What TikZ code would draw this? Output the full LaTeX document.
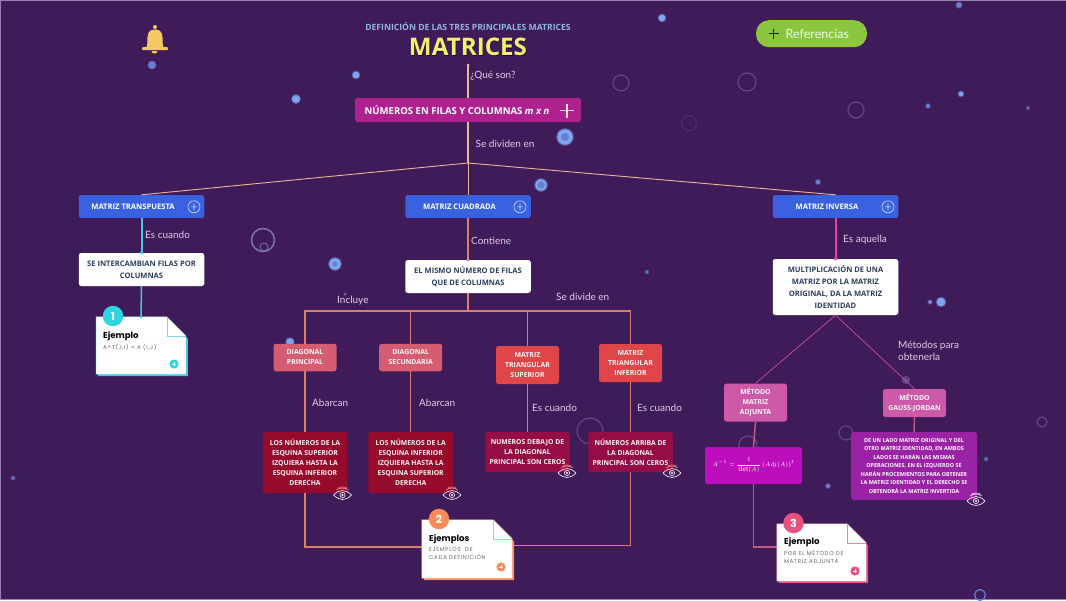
\documentclass[tikz,border=0pt]{standalone}
\usepackage{fontspec}
\usetikzlibrary{calc}
\setmainfont{Open Sans}
\newfontfamily\labfont{Lato}
\newfontfamily\popfont{Poppins}
\newfontfamily\spfont[LetterSpace=12]{Poppins}
\definecolor{bgc}{HTML}{401B5A}
\definecolor{edgec}{HTML}{9A80B0}
\definecolor{labc}{HTML}{DDCDE8}
\definecolor{forkc}{HTML}{E9B994}
\definecolor{cyanc}{HTML}{40C8E4}
\definecolor{peachc}{HTML}{DC7F68}
\definecolor{pinkc}{HTML}{EC40A4}
\definecolor{thinpk}{HTML}{C9509A}
\definecolor{rosec}{HTML}{C4587E}
\definecolor{bluec}{HTML}{3A62E0}
\definecolor{magc}{HTML}{AE2290}
\definecolor{diagc}{HTML}{D65C72}
\definecolor{triac}{HTML}{E04549}
\definecolor{darkc}{HTML}{960A2C}
\definecolor{darkb}{HTML}{960C44}
\definecolor{metc}{HTML}{CC5AA8}
\definecolor{fmc}{HTML}{BC0EBC}
\definecolor{gjc}{HTML}{9A22A4}
\definecolor{navyc}{HTML}{2C3E5C}
\definecolor{ring}{HTML}{5F4B8C}
\definecolor{ringb}{HTML}{7876B0}
\definecolor{ringf}{HTML}{45205E}
\definecolor{blob}{HTML}{7FA6F0}
\definecolor{blobd}{HTML}{6580D0}
\definecolor{cream}{HTML}{F6E4C8}
\definecolor{greyt}{HTML}{666666}
\definecolor{bellc}{HTML}{F5C862}
\definecolor{ttlc}{HTML}{F5EE70}
\definecolor{subc}{HTML}{8FB8DE}
\definecolor{refc}{HTML}{8CC63F}
\definecolor{bd1}{HTML}{2ED5E0}
\definecolor{bd2}{HTML}{F88B58}
\definecolor{bd3}{HTML}{E8507F}
\tikzset{
 x=1pt,y=-1pt,
 boxbase/.style={rectangle,rounded corners=2.5pt,align=center,inner sep=0pt,text=white},
 bluebox/.style={boxbase,fill=bluec,minimum width=125.5pt,minimum height=23pt,font=\fontsize{7.6}{13}\bfseries\selectfont},
 whitebox/.style={boxbase,fill=white,text=navyc,minimum width=125.5pt,font=\fontsize{7.55}{12}\bfseries\selectfont},
 smallbox/.style={boxbase,minimum width=63pt,font=\fontsize{6.9}{10}\bfseries\selectfont,text=white!90!pink},
 darkbox/.style={boxbase,minimum width=84.5pt,font=\fontsize{6.8}{10.1}\bfseries\selectfont,text=white!88!pink},
 lab/.style={anchor=west,inner sep=0pt,text=labc,font=\labfont\fontsize{10}{12}\selectfont,align=left},
 notetitle/.style={anchor=west,inner sep=0pt,text=black,font=\popfont\fontsize{8.6}{10}\bfseries\selectfont},
 notetext/.style={anchor=west,inner sep=0pt,text=greyt,align=left,font=\spfont\fontsize{5.6}{7.6}\selectfont},
 badge/.style={circle,minimum size=20.5pt,inner sep=0pt,text=white,font=\popfont\fontsize{11}{12}\bfseries\selectfont},
 conn/.style={line width=1.5pt},
 connb/.style={line width=2pt},
 forkline/.style={draw=forkc,line width=.9pt},
 tipdot/.style={circle,fill,inner sep=0pt,minimum size=3pt},
}
\newcommand\blobdot[3]{\fill[blob,opacity=.45] (#1,#2) circle (#3+.8); \fill[blob] (#1,#2) circle (#3-.3);}
\newcommand\blobdark[3]{\fill[blobd,opacity=.45] (#1,#2) circle (#3+.6); \fill[blobd] (#1,#2) circle (#3-.3);}
\newcommand\ringdot[3]{\draw[ring,line width=1.1pt] (#1,#2) circle (#3);}
\newcommand\ringfaint[3]{\draw[ringf,line width=.8pt] (#1,#2) circle (#3);}
\newcommand\plusring[2]{\draw[white!85!bluec,line width=.55pt] (#1,#2) circle (6) (#1-3.2,#2) -- (#1+3.2,#2) (#1,#2-3.2) -- (#1,#2+3.2);}
\newcommand\eyeicon[3]{%
 \draw[white,line width=.6pt] (#1-9,#2) .. controls (#1-3,#2-6) and (#1+3,#2-6) .. (#1+9,#2) .. controls (#1+3,#2+6) and (#1-3,#2+6) .. cycle;
 \draw[white,line width=.6pt] (#1,#2) circle (2.6);
 \fill[white] (#1,#2) circle (1.1);
 \draw[#3,line width=.5pt] (#1-6,#2-5) .. controls (#1-2,#2-7.5) and (#1+2,#2-7.5) .. (#1+6,#2-5) (#1-4.5,#2-6.8) .. controls (#1-2,#2-8.5) and (#1+2,#2-8.5) .. (#1+4.5,#2-6.8);}
\newcommand\foldnote[2]{%
 \fill[#2] ($(#1.north west)+(2,3)$) -- ($(#1.north east)+(-17,3)$) -- ($(#1.north east)+(2,22)$) -- ($(#1.south east)+(2,2)$) -- ($(#1.south west)+(2,2)$) -- cycle;
 \fill[white,draw=#2!45!white,line width=.5pt] (#1.north west) -- ($(#1.north east)+(-19,0)$) -- ($(#1.north east)+(0,19)$) -- (#1.south east) -- (#1.south west) -- cycle;
 \draw[#2!70!white,line width=.5pt] ($(#1.north east)+(-19,0)$) -- ($(#1.north east)+(-19,19)$) -- ($(#1.north east)+(0,19)$);}
\newcommand\noteplus[3]{\fill[#3] (#1,#2) circle (4.6); \draw[white,line width=.5pt] (#1-2,#2) -- (#1+2,#2) (#1,#2-2) -- (#1,#2+2);}
\begin{document}
\begin{tikzpicture}
\useasboundingbox (0,0) rectangle (1066,600);
\fill[bgc] (0,0) rectangle (1066,600);
\fill[edgec] (0,0) rectangle (1066,1);
\fill[edgec] (0,598.8) rectangle (1066,600);
\fill[edgec] (0,0) rectangle (1,600);
% bubbles
\ringfaint{254}{127}{13}\ringfaint{679}{52}{13}\ringfaint{357}{217}{5}\ringfaint{240}{572}{14}
\ringfaint{1012}{184}{10}\ringfaint{592}{397}{5}\ringfaint{1061}{410}{8}
\ringdot{621}{83}{8}\ringdot{747}{82}{9}\ringdot{856}{110}{8}
\draw[ringf!60!ring,line width=1pt] (689,123) circle (7.5);
\draw[ringb,line width=1.5pt] (263,240) circle (11.5);
\draw[ringb,line width=.8pt] (264,247) circle (4);
\ringdot{590}{431}{13}\ringdot{748}{445}{9}\ringdot{846}{433}{7}\ringdot{1042}{422}{5}
\fill[ring] (906,380) circle (4);
\blobdark{152}{65}{4}\blobdot{356}{75}{3.6}\blobdot{296}{99}{4.2}\blobdot{662}{18}{3.6}
\blobdot{565}{137}{8}\blobdark{565}{137}{4}\blobdot{541}{185}{6}\blobdark{541}{185}{3.5}
\blobdot{335}{264}{6}\blobdark{335}{264}{2.5}\blobdot{290}{342}{4}
\blobdark{818}{182}{2.5}\blobdark{959}{5}{3}\blobdot{961}{94}{2.5}\blobdark{928}{106}{2.3}\blobdark{1028}{108}{1.5}
\blobdot{941}{302}{4.5}\blobdot{930}{302}{1.8}\blobdark{986}{459}{1.8}\blobdark{13}{478}{2}
\blobdark{647}{272}{1.8}\blobdark{345}{294}{1.3}\blobdark{828}{486}{2.3}
\draw[blobd,line width=1.2pt] (980,595) circle (5.5);
% bell
\fill[bellc] (155,27) circle (2)
 (146.5,47) .. controls (148,43) and (147,41) .. (147.5,37) .. controls (148,31) and (151,29.5) .. (155,29.5) .. controls (159,29.5) and (162,31) .. (162.5,37) .. controls (163,41) and (162,43) .. (163.5,47) -- cycle;
\fill[bellc,rounded corners=1pt] (142,47) rectangle (168,50);
\fill[bellc] (151.5,51) .. controls (152,54.5) and (157,54.5) .. (157.5,51) -- cycle;
% title
\node[inner sep=0pt,text=subc,font=\fontsize{8.6}{10}\bfseries\selectfont] (subt) at (468,26.3) {DEFINICIÓN DE LAS TRES PRINCIPALES MATRICES};
\node[inner sep=0pt,text=black!60!bgc,font=\fontsize{24.2}{26}\bfseries\selectfont] (shad) at (468.6,48) {MATRICES};
\node[inner sep=0pt,text=ttlc,font=\fontsize{24.2}{26}\bfseries\selectfont] (ttl) at (468,47) {MATRICES};
% references button
\node[rectangle,rounded corners=13pt,fill=refc,minimum width=111pt,minimum height=27pt,inner sep=0pt] (refb) at (811.5,33.7) {};
\node[inner sep=0pt,anchor=west,text=white!92!green,font=\labfont\fontsize{12.5}{14}\selectfont] (reft) at (785.5,33.7) {Referencias};
\draw[black!85!green,line width=.9pt] (768.5,33.7) -- (779,33.7) (773.7,28.5) -- (773.7,39);
% main nodes
\coordinate (tip) at (468,65);
\node[boxbase,fill=magc,minimum width=226pt,minimum height=24pt] (top) at (468,110) {};
\node[anchor=west,inner sep=0pt,text=white,font=\fontsize{9.55}{11}\bfseries\selectfont] (topt) at (364.5,110) {NÚMEROS EN FILAS Y COLUMNAS \textit{m x n}};
\draw[cream,line width=1.4pt] (560,110.5) -- (574,110.5) (567,103.5) -- (567,117.5);
\node[bluebox] (mtra) at (141.5,206.5) {\hspace*{-17pt}MATRIZ TRANSPUESTA};
\node[bluebox] (mcua) at (468,206.5) {\hspace*{-17pt}MATRIZ CUADRADA};
\node[bluebox] (minv) at (835.5,206.5) {\hspace*{-17pt}MATRIZ INVERSA};
\plusring{194}{206.8}\plusring{520}{206.8}\plusring{888}{206.8}
\node[whitebox,minimum height=33pt] (tw) at (141.5,269.5) {SE INTERCAMBIAN FILAS POR\\COLUMNAS};
\node[whitebox,minimum height=33pt] (cw) at (468,276.5) {EL MISMO NÚMERO DE FILAS\\QUE DE COLUMNAS};
\node[whitebox,minimum height=56pt] (iw) at (835.5,287) {MULTIPLICACIÓN DE UNA\\MATRIZ POR LA MATRIZ\\ORIGINAL, DA LA MATRIZ\\IDENTIDAD};
\node[smallbox,fill=diagc,minimum height=27.5pt] (dp) at (305,357.5) {DIAGONAL\\PRINCIPAL};
\node[smallbox,fill=diagc,minimum height=27.5pt] (ds) at (410.7,357.5) {DIAGONAL\\SECUNDARIA};
\node[smallbox,fill=triac,minimum height=38pt] (ts) at (527.5,365) {MATRIZ\\TRIANGULAR\\SUPERIOR};
\node[smallbox,fill=triac,minimum height=38pt] (ti) at (630.5,363) {MATRIZ\\TRIANGULAR\\INFERIOR};
\node[darkbox,fill=darkc,minimum height=61pt] (d1) at (305,462.5) {LOS NÚMEROS DE LA\\ESQUINA SUPERIOR\\IZQUIERA HASTA LA\\ESQUINA INFERIOR\\DERECHA};
\node[darkbox,fill=darkc,minimum height=61pt] (d2) at (410.7,462.5) {LOS NÚMEROS DE LA\\ESQUINA INFERIOR\\IZQUIERA HASTA LA\\ESQUINA SUPERIOR\\DERECHA};
\node[darkbox,fill=darkb,minimum height=40pt] (d3) at (527.5,452) {NUMEROS DEBAJO DE\\LA DIAGONAL\\PRINCIPAL SON CEROS};
\node[darkbox,fill=darkb,minimum height=40pt] (d4) at (630.5,452) {NÚMEROS ARRIBA DE\\LA DIAGONAL\\PRINCIPAL SON CEROS};
\node[smallbox,fill=metc,minimum height=38pt] (ma) at (755.5,402.5) {MÉTODO\\MATRIZ\\ADJUNTA};
\node[smallbox,fill=metc,minimum height=28pt] (mg) at (914.5,403) {MÉTODO\\GAUSS-JORDAN};
\node[boxbase,fill=fmc,minimum width=97pt,minimum height=37pt,font=\fontsize{6.5}{9}\selectfont] (fm) at (753.5,465.5) {$\displaystyle A^{-1}=\frac{1}{\det(A)}\,(Adj(A))^{t}$};
\node[boxbase,fill=gjc,minimum width=126pt,minimum height=68pt,font=\fontsize{5.45}{8.5}\bfseries\selectfont] (gj) at (914,466) {DE UN LADO MATRIZ ORIGINAL Y DEL\\OTRO MATRIZ IDENTIDAD, EN AMBOS\\LADOS SE HARÁN LAS MISMAS\\OPERACIONES, EN EL IZQUIERDO SE\\HARÁN PROCEMIENTOS PARA OBTENER\\LA MATRIZ IDENTIDAD Y EL DERECHO SE\\OBTENDRÁ LA MATRIZ INVERTIDA};
% fork coordinates
\coordinate (f1) at (468,163);
\coordinate (f2) at (468,311);
% notes
\node[minimum width=89.5pt,minimum height=57pt,inner sep=0pt] (n1) at (141,345.5) {};
\node[minimum width=90pt,minimum height=58pt,inner sep=0pt] (n2) at (467,549) {};
\node[minimum width=89pt,minimum height=57pt,inner sep=0pt] (n3) at (821.5,552.5) {};
% connectors
\draw[forkline,line width=1.2pt] (tip) -- (top.north);
\draw[forkline,line width=1.2pt] (top.south) -- (f1);
\draw[forkline] (mtra.north) -- (f1) -- (minv.north);
\draw[forkline] (f1) -- (mcua.north);
\node[tipdot,fill=forkc] (tipd) at (tip) {};
\draw[cyanc,conn] (tw.south) -- (n1.north);
\draw[peachc,conn] (cw.south) -- (f2);
\draw[peachc,conn] (dp.north) |- (f2) -| (ti.north);
\draw[peachc,conn] (ds.north) -- (ds.north |- f2);
\draw[peachc,conn] (ts.north) -- (ts.north |- f2);
\draw[peachc,conn] (dp.south) -- (d1.north);
\draw[peachc,conn] (ds.south) -- (d2.north);
\draw[peachc,conn] (ts.south) -- (d3.north);
\draw[peachc,conn] (ti.south) -- (d4.north);
\draw[peachc,conn] (d1.south) |- ([yshift=2pt]n2.west);
\draw[peachc,conn] (d4.south) |- ([yshift=3.5pt]n2.east);
\draw[thinpk,line width=.7pt] (iw.south) -- (ma.north);
\draw[thinpk,line width=.7pt] (iw.south) -- (mg.north);
\draw[rosec,conn] (ma.south) -- (fm.north);
\draw[rosec,conn] (mg.south) -- (gj.north);
\draw[rosec,conn] (fm.south) |- ([yshift=5.5pt]n3.west);
\foldnote{n1}{cyanc}
\foldnote{n2}{bd2}
\foldnote{n3}{bd3}
\node[tipdot,fill=cyanc,minimum size=3pt] (dot2) at (n1.north) {};
\node[badge,fill=bd1] (b1) at (113,316) {1};
\node[badge,fill=bd2] (b2) at (439,519) {2};
\node[badge,fill=bd3] (b3) at (793.5,523) {3};
\node[notetitle] (t1) at (103,336.5) {Ejemplo};
\node[notetext] (x1) at (103,347.7) {A\textasciicircum T(J,I) = A (I,J)};
\node[notetitle] (t2) at (429,539) {Ejemplos};
\node[notetext] (x2) at (429,553.5) {EJEMPLOS~ DE\\CADA DEFINICIÓN};
\node[notetitle] (t3) at (784,542) {Ejemplo};
\node[notetext] (x3) at (784,557) {POR EL MÉTODO DE\\MATRIZ ADJUNTA};
\noteplus{174}{364}{bd1}
\noteplus{501}{567}{bd2}
\noteplus{855}{571}{bd3}
\eyeicon{342.5}{495}{pink!80!red}
\eyeicon{452}{495}{pink!80!red}
\eyeicon{567}{473}{pink!80!red}
\eyeicon{672}{473}{pink!80!red}
\eyeicon{976}{501}{white}
% labels
\node[lab] (l1) at (470,75.5) {¿Qué son?};
\node[lab] (l2) at (475.5,144) {Se dividen en};
\node[lab] (l3) at (145,235) {Es cuando};
\node[lab] (l4) at (471,241) {Contiene};
\node[lab] (l5) at (843,240) {Es aquella};
\node[lab] (l6) at (337,301) {Incluye};
\node[lab] (l7) at (556,297) {Se divide en};
\node[lab] (l8) at (312,403) {Abarcan};
\node[lab] (l9) at (419,403) {Abarcan};
\node[lab] (l10) at (532,408) {Es cuando};
\node[lab] (l11) at (637,408) {Es cuando};
\node[lab] (l12) at (898,350.5) {Métodos para\\obtenerla};
% blue-to-white connectors, drawn last
\draw[cyanc,connb] (mtra.south) -- (tw.north);
\draw[peachc,connb] (mcua.south) -- (cw.north);
\draw[pinkc,connb] (minv.south) -- (iw.north);
\node[tipdot,fill=cyanc,minimum size=3.5pt] (dot1) at (tw.north) {};
\node[tipdot,fill=peachc,minimum size=3.5pt] (dot3) at (cw.north) {};
\node[tipdot,fill=pinkc,minimum size=3.5pt] (dot4) at (iw.north) {};
\end{tikzpicture}
\end{document}
